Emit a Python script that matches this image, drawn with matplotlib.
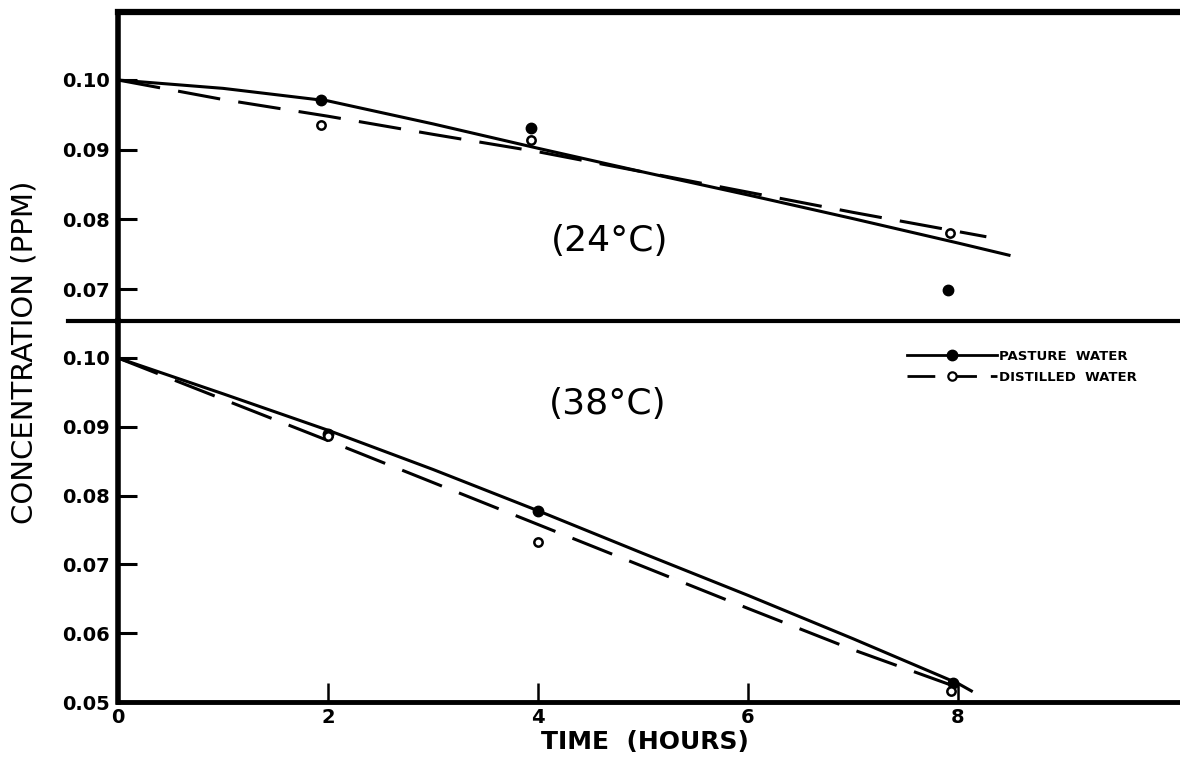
import matplotlib
matplotlib.use("Agg")
import matplotlib.pyplot as plt
from matplotlib.lines import Line2D

# ---------------- data ----------------
# 24 C panel: fitted curves
t_top_pasture_curve = [0, 1, 2, 3, 4, 5, 6, 7, 8, 8.5]
c_top_pasture_curve = [0.100, 0.0988, 0.0970, 0.0937, 0.0902, 0.0868, 0.0835, 0.0801, 0.0766, 0.0748]
t_top_distilled_curve = [0, 1, 2, 3, 4, 5, 6, 7, 8.27]
c_top_distilled_curve = [0.100, 0.0972, 0.0948, 0.0922, 0.0897, 0.0868, 0.0839, 0.0810, 0.0775]
# 24 C panel: measured points
t_top_pasture_pts = [1.93, 3.93, 7.90]
c_top_pasture_pts = [0.0971, 0.0931, 0.0699]
t_top_distilled_pts = [1.93, 3.93, 7.92]
c_top_distilled_pts = [0.0935, 0.0914, 0.0781]

# 38 C panel: fitted curves
t_bot_pasture_curve = [0, 1, 2, 3, 4, 5, 6, 7, 8, 8.14]
c_bot_pasture_curve = [0.100, 0.0948, 0.0895, 0.0838, 0.0778, 0.0716, 0.0655, 0.0592, 0.0527, 0.0515]
t_bot_distilled_curve = [0, 1, 2, 3, 4, 5, 6, 7, 8, 8.1]
c_bot_distilled_curve = [0.100, 0.0940, 0.0880, 0.0819, 0.0758, 0.0697, 0.0636, 0.0576, 0.0521, 0.0514]
# 38 C panel: measured points
t_bot_pasture_pts = [2, 4, 7.95]
c_bot_pasture_pts = [0.0890, 0.0778, 0.0527]
t_bot_distilled_pts = [2, 4, 7.93]
c_bot_distilled_pts = [0.0887, 0.0733, 0.0516]

top_yticks = [0.07, 0.08, 0.09, 0.10]
top_yticklabels = ["0.07", "0.08", "0.09", "0.10"]
bot_yticks = [0.05, 0.06, 0.07, 0.08, 0.09, 0.10]
bot_yticklabels = ["0.05", "0.06", "0.07", "0.08", "0.09", "0.10"]
xticks = [0, 2, 4, 6, 8]
xticklabels = ["0", "2", "4", "6", "8"]

# ---------------- figure ----------------
W, H = 1180, 759
fig = plt.figure(figsize=(W / 100, H / 100), dpi=100)
plt.rcParams['font.family'] = ['DejaVu Sans']

left = 118 / W
y_top = 1 - 12 / H
y_mid = 1 - 321 / H
y_bot = 1 - 702 / H
ax_t = fig.add_axes([left, y_mid, 1 - left, y_top - y_mid])
ax_b = fig.add_axes([left, y_bot, 1 - left, y_mid - y_bot])

XMAX = (W - 118) / 105.0
solid_kw = dict(color="black", lw=2.2, solid_capstyle="butt")
dash_kw = dict(color="black", lw=2.2, dashes=(14, 6), dash_capstyle="butt")
fill_kw = dict(ls="none", marker="o", ms=7.5, mfc="black", mec="black")
open_kw = dict(ls="none", marker="o", ms=6, mfc="white", mec="black", mew=1.8)

# top panel
ax_t.plot(t_top_pasture_curve, c_top_pasture_curve, **solid_kw)
ax_t.plot(t_top_distilled_curve, c_top_distilled_curve, **dash_kw)
ax_t.plot(t_top_pasture_pts, c_top_pasture_pts, **fill_kw)
ax_t.plot(t_top_distilled_pts, c_top_distilled_pts, **open_kw)
ax_t.set_xlim(0, XMAX)
ax_t.set_ylim(0.07 - 32 / 6967, 0.10 + 68 / 6967)

# bottom panel
ax_b.plot(t_bot_pasture_curve, c_bot_pasture_curve, **solid_kw)
ax_b.plot(t_bot_distilled_curve, c_bot_distilled_curve, **dash_kw)
ax_b.plot(t_bot_pasture_pts, c_bot_pasture_pts, **fill_kw)
ax_b.plot(t_bot_distilled_pts, c_bot_distilled_pts, **open_kw)
ax_b.set_xlim(0, XMAX)
ax_b.set_ylim(0.05, 0.10 + 37 / 6880)

tick_font = dict(fontsize=14, fontweight="bold")
for ax, yt, yl in [(ax_t, top_yticks, top_yticklabels), (ax_b, bot_yticks, bot_yticklabels)]:
    ax.set_yticks(yt)
    ax.set_yticklabels(yl, **tick_font)
    ax.tick_params(axis="y", direction="in", length=14, width=2.2, pad=6)
    ax.spines["right"].set_visible(False)
    ax.spines["left"].set_linewidth(4)
    for s in ax.spines.values():
        s.set_color("black")

ax_t.spines["top"].set_linewidth(4.5)
ax_t.spines["bottom"].set_visible(False)
ax_t.set_xticks([])

ax_b.spines["top"].set_visible(False)
ax_b.spines["bottom"].set_linewidth(3.5)
ax_b.set_xticks(xticks)
ax_b.set_xticklabels(xticklabels, **tick_font)
ax_b.tick_params(axis="x", direction="in", length=14, width=1.8, pad=4)

# divider line between panels (extends left of the y axis)
fig.add_artist(Line2D([68 / W, 1.0], [y_mid, y_mid], transform=fig.transFigure,
                      color="black", lw=3))

# labels
fig.text(25 / W, 1 - 352 / H, "CONCENTRATION (PPM)", rotation=90,
         ha="center", va="center", fontsize=21)
fig.text(645 / W, 1 - 742 / H, "TIME  (HOURS)", ha="center", va="center",
         fontsize=18, fontweight="bold")

temp_font = dict(fontsize=26, family=["DejaVu Sans"], fontweight="normal")
fig.text(610 / W, 1 - 241 / H, "(24°C)", ha="center", va="center", **temp_font)
fig.text(608 / W, 1 - 404 / H, "(38°C)", ha="center", va="center", **temp_font)

# legend
handles = [
    Line2D([], [], color="black", lw=2.0, marker="o", ms=7.5, mfc="black", mec="black"),
    Line2D([], [], color="black", lw=2.0, dashes=(10, 5), marker="o", ms=6,
           mfc="white", mec="black", mew=1.6),
]
leg = ax_b.legend(handles, ["PASTURE  WATER", "DISTILLED  WATER"], loc="upper left",
                  bbox_to_anchor=((895 - 118) / (W - 118), 1 - (338 - 321) / (702 - 321)),
                  frameon=False, numpoints=1, handlelength=6.8, handletextpad=0.2,
                  labelspacing=0.6, prop=dict(size=9.5, weight="bold"))

fig.savefig("out.png", dpi=100)
